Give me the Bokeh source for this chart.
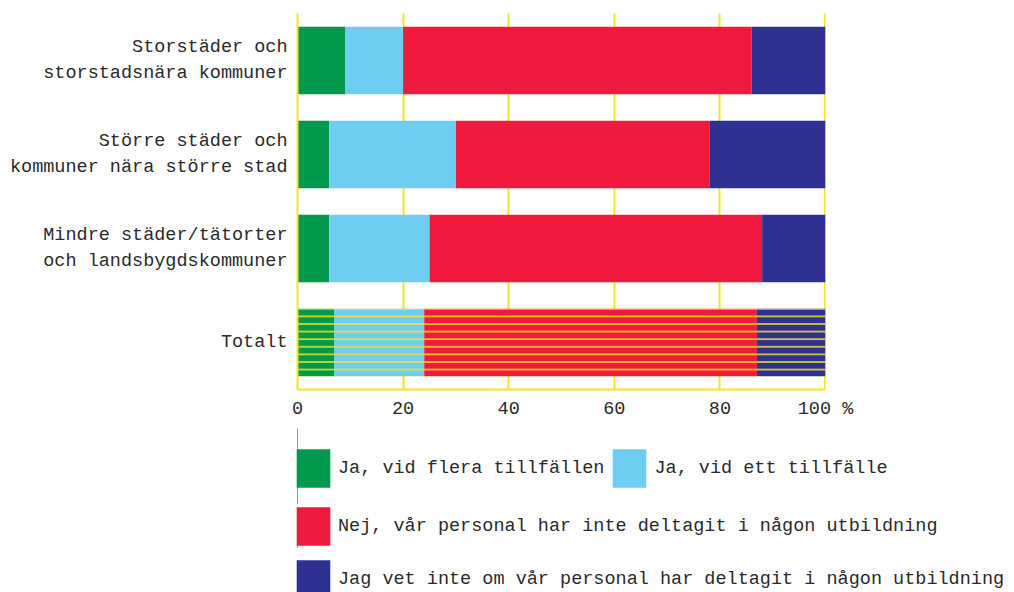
from bokeh.plotting import figure
from bokeh.layouts import column
from bokeh.models import FactorRange, Range1d, Legend, LegendItem, ColumnDataSource, FixedTicker, Span
from bokeh.embed import file_html
from bokeh.resources import INLINE

categories = [
    "Storstäder och\nstorstadsnära kommuner",
    "Större städer och\nkommuner nära större stad",
    "Mindre städer/tätorter\noch landsbygdskommuner",
    "Totalt",
]
series = [
    "Ja, vid flera tillfällen",
    "Ja, vid ett tillfälle",
    "Nej, vår personal har inte deltagit i någon utbildning",
    "Jag vet inte om vår personal har deltagit i någon utbildning",
]
ja_flera = [9, 6, 6, 7]
ja_ett = [11, 24, 19, 17]
nej = [66, 48, 63, 63]
vet_inte = [14, 22, 12, 13]
hatches = [" ", " ", " ", "-"]
colors = ["#00994e", "#6fcdf2", "#ef1a3e", "#2e3192"]
x_ticks = [0, 20, 40, 60, 80, 100]
x_tick_labels = ["0", "20", "40", "60", "80", "100 %"]

YELLOW = "#f3e51f"
FONT = "Liberation Mono"
FS = "18.5px"
TXT = "#2a2a2a"

keys = ["s0", "s1", "s2", "s3"]
src = ColumnDataSource(dict(cat=categories, s0=ja_flera, s1=ja_ett, s2=nej, s3=vet_inte, hatch=hatches))

p = figure(frame_width=528, frame_height=376,
           y_range=FactorRange(factors=categories[::-1], range_padding=0),
           x_range=Range1d(0, 100),
           output_backend="svg", toolbar_location=None,
           min_border_left=297, min_border_right=185, min_border_top=13, min_border_bottom=28)

rs = p.hbar_stack(keys, y="cat", height=0.72, color=colors, source=src, line_color=None,
                  hatch_pattern="hatch", hatch_color=YELLOW, hatch_weight=1.5, hatch_scale=7.6)

p.outline_line_color = None
p.ygrid.grid_line_color = None
p.xgrid.ticker = FixedTicker(ticks=x_ticks)
p.xgrid.grid_line_color = YELLOW
p.xgrid.grid_line_width = 2
p.xgrid.level = "underlay"
p.add_layout(Span(location=x_ticks[-1], dimension="height", line_color=YELLOW, line_width=3, level="underlay"))

p.xaxis.ticker = FixedTicker(ticks=x_ticks)
p.xaxis.major_label_overrides = {t: l for t, l in zip(x_ticks, x_tick_labels)}
p.xaxis.axis_line_color = YELLOW
p.xaxis.axis_line_width = 2
p.xaxis.major_tick_line_color = None
p.xaxis.minor_tick_line_color = None
p.xaxis.major_label_standoff = 3

p.yaxis.axis_line_color = YELLOW
p.yaxis.axis_line_width = 2
p.yaxis.major_tick_line_color = None
p.yaxis.major_label_standoff = 4

for ax in (p.xaxis[0], p.yaxis[0]):
    ax.major_label_text_font = FONT
    ax.major_label_text_font_size = FS
    ax.major_label_text_color = TXT

# legend panel: a second, axis-less figure holding the legends
# (its bars lie outside its visible x range, only their legend swatches show)
lf = figure(frame_width=1010, frame_height=175, x_range=Range1d(200, 300),
            y_range=FactorRange(factors=categories[::-1], range_padding=0),
            x_axis_type=None, y_axis_type=None, output_backend="svg", toolbar_location=None,
            min_border=0)
lf.outline_line_color = None
lf.grid.grid_line_color = None
lr = lf.hbar_stack(keys, y="cat", height=0.72, color=colors, source=src, line_color=None)

def make_legend(items, y, orientation="vertical"):
    return Legend(items=items, location=(292, y), orientation=orientation,
                  glyph_width=42, glyph_height=48, label_standoff=4, spacing=4,
                  padding=0, margin=0, border_line_color=None, background_fill_alpha=0,
                  label_text_font=FONT, label_text_font_size=FS, label_text_color=TXT)

l1 = make_legend([LegendItem(label=series[0], renderers=[lr[0]]),
                  LegendItem(label=series[1], renderers=[lr[1]])], 105, "horizontal")
l2 = make_legend([LegendItem(label=series[2], renderers=[lr[2]])], 47)
l3 = make_legend([LegendItem(label=series[3], renderers=[lr[3]])], -6)
for l in (l1, l2, l3):
    lf.add_layout(l, "center")

open("out.html", "w").write(file_html(column(p, lf), INLINE))
